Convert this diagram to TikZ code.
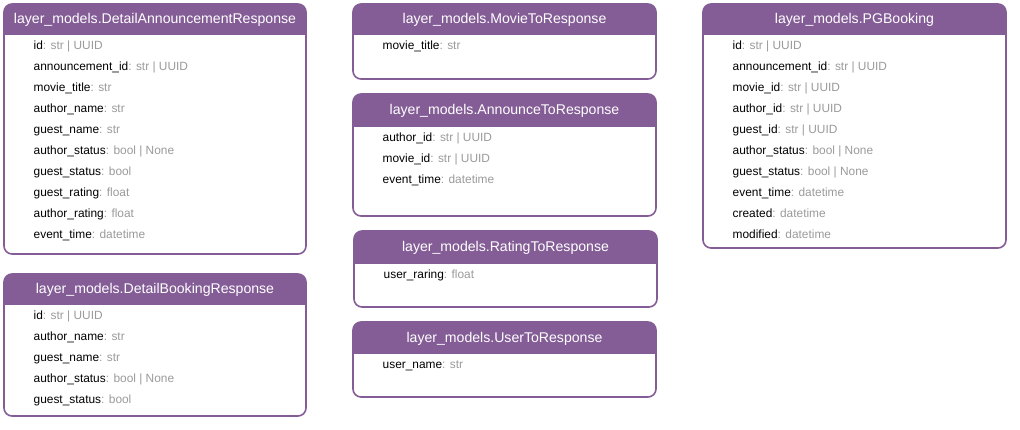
\documentclass[tikz,border=0pt]{standalone}
\usepackage{fontspec}
\setmainfont{Liberation Sans}
\definecolor{hdr}{HTML}{845D97}
\definecolor{typ}{HTML}{9A9A9A}
\tikzset{
  boxframe/.style={draw=hdr, line width=1.6pt, rounded corners=8pt},
  titletext/.style={text=white, font=\fontsize{14.1}{16}\selectfont, inner sep=0pt},
  field/.style={anchor=base west, font=\fontsize{11.9}{14}\selectfont, inner sep=0pt},
}
% #1 name, #2 x1, #3 y1, #4 x2, #5 y2, #6 header bottom, #7 title, #8 fields
\newcommand\umlbox[8]{%
  \begin{scope}
    \clip[rounded corners=8pt] (#2,#3) rectangle (#4,#5);
    \fill[hdr] (#2,#3) rectangle (#4,#6);
  \end{scope}
  \draw[boxframe] (#2,#3) rectangle (#4,#5);
  \node[titletext] (#1) at ({(#2+#4)/2},{(#3+#6)/2+0.5}) {#7};
  \foreach \fn/\ty [count=\i] in {#8}{
    \node[field] (#1-\i) at ({#2+29.5},{#6+14.5+21*(\i-1)}) {\fn\textcolor{typ}{: \ty}};
  }
}
\begin{document}
\begin{tikzpicture}[x=1pt,y=-1pt]
\useasboundingbox (0,0) rectangle (1020,430);
\umlbox{dar}{4}{4}{306}{254}{35}{layer\_models.DetailAnnouncementResponse}
  {id/str | UUID, announcement\_id/str | UUID, movie\_title/str, author\_name/str, guest\_name/str, author\_status/bool | None, guest\_status/bool, guest\_rating/float, author\_rating/float, event\_time/datetime}
\umlbox{dbr}{4}{274}{306}{416}{305}{layer\_models.DetailBookingResponse}
  {id/str | UUID, author\_name/str, guest\_name/str, author\_status/bool | None, guest\_status/bool}
\umlbox{mtr}{353}{4}{656}{79}{35}{layer\_models.MovieToResponse}
  {movie\_title/str}
\umlbox{atr}{353}{94}{656}{216}{127}{layer\_models.AnnounceToResponse}
  {author\_id/str | UUID, movie\_id/str | UUID, event\_time/datetime}
\umlbox{rtr}{354}{231}{657}{307}{264}{layer\_models.RatingToResponse}
  {user\_raring/float}
\umlbox{utr}{353}{322}{656}{397}{354}{layer\_models.UserToResponse}
  {user\_name/str}
\umlbox{pgb}{703}{4}{1006}{248}{35}{layer\_models.PGBooking}
  {id/str | UUID, announcement\_id/str | UUID, movie\_id/str | UUID, author\_id/str | UUID, guest\_id/str | UUID, author\_status/bool | None, guest\_status/bool | None, event\_time/datetime, created/datetime, modified/datetime}
\end{tikzpicture}
\end{document}
